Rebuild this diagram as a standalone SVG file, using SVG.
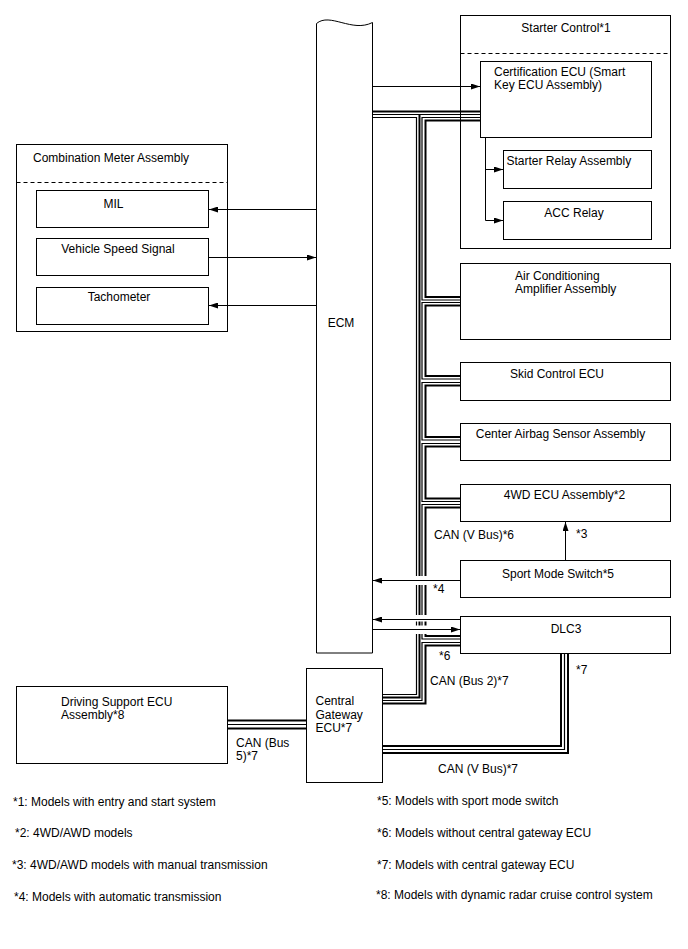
<svg xmlns="http://www.w3.org/2000/svg" width="688" height="949" viewBox="0 0 688 949">
<style>
.box{fill:#fff;stroke:#000;stroke-width:1}
.dash{fill:none;stroke:#000;stroke-width:1;stroke-dasharray:4,3}
text{font-family:"Liberation Sans",Arial,sans-serif;font-size:12px;fill:#000}
.c{text-anchor:middle}
.ln{fill:none;stroke:#000;stroke-width:1}
.tk{fill:none;stroke:#000;stroke-width:2}
.tn{fill:none;stroke:#000;stroke-width:1.2}
.gap{fill:#fff;stroke:none}
</style>
<defs>
<marker id="ah" markerUnits="userSpaceOnUse" markerWidth="9" markerHeight="6" refX="9" refY="3" orient="auto">
<path d="M0,0 L9,3 L0,6 z" fill="#000"/>
</marker>
</defs>
<rect width="688" height="949" fill="#fff"/>

<g id="ecm">
<path class="box" d="M316.5,653 V23.5 C330,12 352,33 372.5,22.5 V653 Z"/>
<text class="c" x="341" y="327">ECM</text>
</g>

<g id="starter-control">
<rect class="box" x="460.5" y="15.5" width="210" height="233"/>
<text class="c" x="566" y="32">Starter Control*1</text>
<line class="dash" x1="460.5" y1="53.5" x2="670.5" y2="53.5"/>
</g>
<g id="certification-ecu">
<rect class="box" x="480.5" y="61.5" width="171" height="76"/>
<text x="494" y="76">Certification ECU (Smart</text>
<text x="494" y="88.5">Key ECU Assembly)</text>
</g>
<g id="starter-relay">
<rect class="box" x="503.5" y="150.5" width="148" height="38"/>
<text x="506.5" y="165">Starter Relay Assembly</text>
</g>
<g id="acc-relay">
<rect class="box" x="503.5" y="201.5" width="148" height="38"/>
<text class="c" x="574" y="217">ACC Relay</text>
</g>

<g id="combination-meter">
<rect class="box" x="16.5" y="144.5" width="211" height="187"/>
<text x="33" y="162">Combination Meter Assembly</text>
<line class="dash" x1="16.5" y1="182.5" x2="227.5" y2="182.5"/>
</g>
<g id="mil">
<rect class="box" x="36.5" y="190.5" width="172" height="37"/>
<text class="c" x="113.5" y="208">MIL</text>
</g>
<g id="vehicle-speed-signal">
<rect class="box" x="36.5" y="238.5" width="172" height="37"/>
<text class="c" x="118" y="252.5">Vehicle Speed Signal</text>
</g>
<g id="tachometer">
<rect class="box" x="36.5" y="287.5" width="172" height="37"/>
<text class="c" x="119" y="301">Tachometer</text>
</g>

<g id="ac-amplifier">
<rect class="box" x="460.5" y="263.5" width="210" height="76"/>
<text x="515" y="280">Air Conditioning</text>
<text x="515" y="293">Amplifier Assembly</text>
</g>
<g id="skid-control">
<rect class="box" x="460.5" y="362.5" width="210" height="38"/>
<text class="c" x="557" y="378">Skid Control ECU</text>
</g>
<g id="center-airbag">
<rect class="box" x="460.5" y="423.5" width="210" height="37"/>
<text class="c" x="560.5" y="438">Center Airbag Sensor Assembly</text>
</g>
<g id="ecu-4wd">
<rect class="box" x="460.5" y="484.5" width="210" height="37"/>
<text class="c" x="564.5" y="499">4WD ECU Assembly*2</text>
</g>
<g id="sport-mode-switch">
<rect class="box" x="460.5" y="560.5" width="210" height="37"/>
<text class="c" x="558" y="578">Sport Mode Switch*5</text>
</g>
<g id="dlc3">
<rect class="box" x="460.5" y="616.5" width="210" height="37"/>
<text class="c" x="566" y="633">DLC3</text>
</g>
<g id="central-gateway">
<rect class="box" x="306.5" y="668.5" width="76" height="114"/>
<text x="315.5" y="705">Central</text>
<text x="315.5" y="718.5">Gateway</text>
<text x="315.5" y="732">ECU*7</text>
</g>
<g id="driving-support">
<rect class="box" x="16.5" y="686.5" width="211" height="77"/>
<text x="61" y="706">Driving Support ECU</text>
<text x="61" y="719">Assembly*8</text>
</g>

<g id="connectors">
<!-- CAN buses -->
<path class="tk" d="M372.5,111.5 H480"/>
<path class="tn" d="M372.5,114.5 H480"/>
<path class="tn" d="M372.5,117.5 H416.5 V694.5 H383"/>
<path class="tk" d="M419.5,114.5 V697.5 H383"/>
<path class="tn" d="M480,117.5 H422 V300 H460.5"/>
<path class="tk" d="M480,120.5 H425.5 V297 H460.5"/>
<path class="tn" d="M460.5,302.5 H422 V379 H460.5"/>
<path class="tk" d="M460.5,305.5 H425.5 V376 H460.5"/>
<path class="tn" d="M460.5,382.5 H422 V440 H460.5"/>
<path class="tk" d="M460.5,385.5 H425.5 V437 H460.5"/>
<path class="tn" d="M460.5,443.5 H422 V501.5 H460.5"/>
<path class="tk" d="M460.5,446.5 H425.5 V498.5 H460.5"/>
<path class="tn" d="M460.5,504.5 H422 V639 H460.5"/>
<path class="tk" d="M460.5,507.5 H425.5 V636 H460.5"/>
<path class="tn" d="M460.5,642.5 H422 V700.5 H383"/>
<path class="tk" d="M460.5,645.5 H425.5 V703.5 H383"/>
<path class="tk" d="M561,653.5 V746 H383"/>
<path class="tn" d="M564.5,653.5 V749.5 H383"/>
<path class="tk" d="M568,653.5 V753 H383"/>
<path class="tk" d="M228,720.5 H306"/>
<path class="tn" d="M228,724.5 H306"/>
<path class="tk" d="M228,728.5 H306"/>
<!-- gaps where signal lines cross the bus -->
<rect class="gap" x="414" y="576" width="14" height="9"/>
<rect class="gap" x="414" y="615" width="14" height="6.5"/>
<rect class="gap" x="414" y="625.5" width="14" height="8.5"/>
<!-- signal lines -->
<path class="ln" d="M372.5,86.5 H480" marker-end="url(#ah)"/>
<path class="ln" d="M485.5,137.5 V220.5"/>
<path class="ln" d="M485.5,169.5 H503" marker-end="url(#ah)"/>
<path class="ln" d="M485.5,220.5 H503" marker-end="url(#ah)"/>
<path class="ln" d="M316.5,209.5 H209" marker-end="url(#ah)"/>
<path class="ln" d="M208.5,257.5 H316" marker-end="url(#ah)"/>
<path class="ln" d="M316.5,305.5 H209" marker-end="url(#ah)"/>
<path class="ln" d="M565.5,560.5 V522" marker-end="url(#ah)"/>
<path class="ln" d="M460.5,580.5 H373" marker-end="url(#ah)"/>
<path class="ln" d="M460.5,619.5 H373" marker-end="url(#ah)"/>
<path class="ln" d="M372.5,629.5 H460" marker-end="url(#ah)"/>
<!-- labels -->
<text x="434" y="539">CAN (V Bus)*6</text>
<text x="576" y="537.5">*3</text>
<text x="433" y="592.5">*4</text>
<text x="439" y="660">*6</text>
<text x="576" y="673.5">*7</text>
<text x="430" y="685">CAN (Bus 2)*7</text>
<text x="236" y="747">CAN (Bus</text>
<text x="236" y="760">5)*7</text>
<text x="438" y="773">CAN (V Bus)*7</text>
</g>

<g id="footnotes">
<text x="13" y="806">*1: Models with entry and start system</text>
<text x="15" y="837">*2: 4WD/AWD models</text>
<text x="12" y="869">*3: 4WD/AWD models with manual transmission</text>
<text x="14" y="901">*4: Models with automatic transmission</text>
<text x="377" y="805">*5: Models with sport mode switch</text>
<text x="377" y="836.5">*6: Models without central gateway ECU</text>
<text x="377" y="868.5">*7: Models with central gateway ECU</text>
<text x="376" y="899">*8: Models with dynamic radar cruise control system</text>
</g>
</svg>
